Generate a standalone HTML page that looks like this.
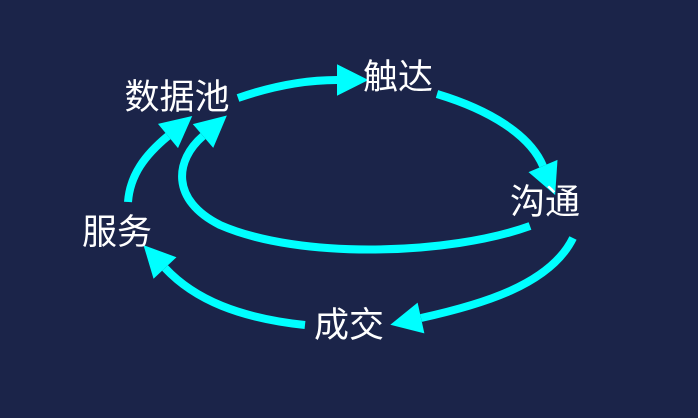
<!DOCTYPE html>
<html><head><meta charset="utf-8"><style>
html,body{margin:0;padding:0;}
body{width:698px;height:418px;background:#1b2449;overflow:hidden;position:relative;font-family:"Liberation Sans","Noto Sans CJK SC",sans-serif;}
.t{position:absolute;color:#fff;font-size:35px;line-height:36px;white-space:nowrap;transform:translate(-50%,-50%);}
svg{position:absolute;left:0;top:0;}
</style></head><body>
<svg width="698" height="418">
<defs><marker id="a" markerUnits="userSpaceOnUse" markerWidth="40" markerHeight="40" refX="0" refY="0" viewBox="-2 -14 28 28" orient="auto" overflow="visible"><path d="M0,-11 L22,0 L0,11 z" fill="#00ffff"/></marker></defs>
<g fill="none" stroke="#00ffff" stroke-width="8" marker-end="url(#a)">
<path d="M238,98 Q290,80 337,80"/>
<path d="M437,94 C490,110 530,135 543,166"/>
<path d="M573,238 C550,285 480,305 421,318"/>
<path d="M305,325 C240,318 195,300 165,268"/>
<path d="M128,202 C130,175 145,155 168,136"/>
<path d="M530,226 C450,255 300,260 220,225 C170,200 175,160 203,136"/>
</g></svg>
<div class="t" style="left:177px;top:98px">数据池</div>
<div class="t" style="left:398px;top:78px">触达</div>
<div class="t" style="left:545px;top:203px">沟通</div>
<div class="t" style="left:117px;top:233px">服务</div>
<div class="t" style="left:349px;top:326px">成交</div>
</body></html>
